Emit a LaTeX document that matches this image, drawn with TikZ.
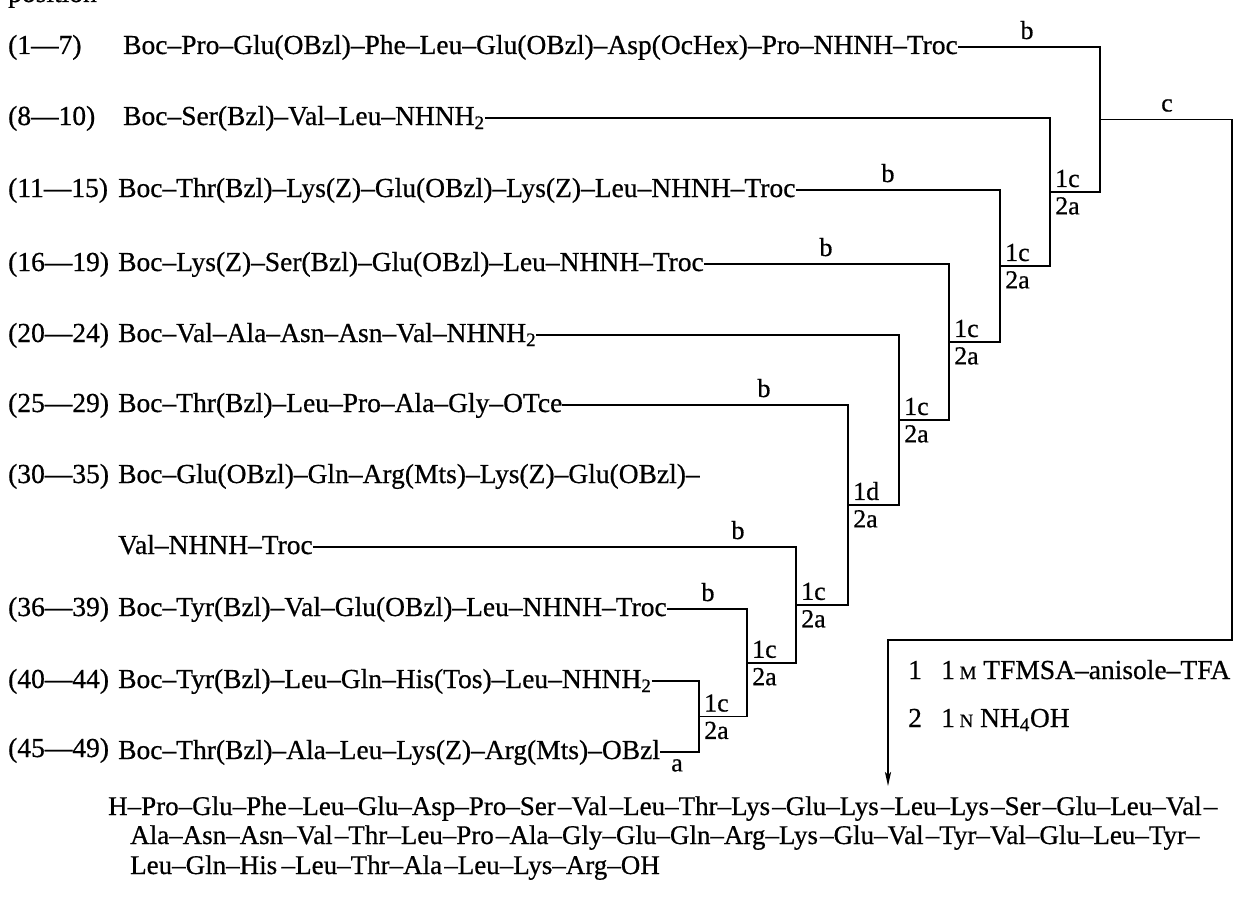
\documentclass[tikz,border=0pt]{standalone}
\usepackage{fontspec}
\setmainfont{Liberation Serif}[FakeBold=0.6]
\usetikzlibrary{calc,arrows.meta}
\begin{document}
\begin{tikzpicture}[x=1pt,y=-1pt,
  pep/.style={anchor=base west, inner sep=0pt, font=\fontsize{27.5}{32}\selectfont, text height=19pt, text depth=5pt},
  rowlab/.style={anchor=base west, inner sep=0pt, font=\fontsize{27.5}{32}\selectfont},
  prod/.style={anchor=base west, inner sep=0pt, font=\fontsize{27}{31}\selectfont},
  lab/.style={inner sep=0pt, font=\fontsize{26}{30}\selectfont},
  conn/.style={line width=1.8pt},
]
\useasboundingbox (0,0) rectangle (1246,907);
\newcommand{\sm}[1]{{\fontsize{19}{19}\selectfont #1}}
\newcommand{\hs}{\hspace{0.08em}}
% header (cut off)
\node[rowlab] (hdr) at (8,2) {position};
% row labels
\node[rowlab] (l1) at (8,54) {(1---7)};
\node[rowlab] (l2) at (8,125) {(8---10)};
\node[rowlab] (l3) at (8,197) {(11---15)};
\node[rowlab] (l4) at (8,271) {(16---19)};
\node[rowlab] (l5) at (8,342) {(20---24)};
\node[rowlab] (l6) at (8,412) {(25---29)};
\node[rowlab] (l7) at (8,483) {(30---35)};
\node[rowlab] (l8) at (8,616) {(36---39)};
\node[rowlab] (l9) at (8,688) {(40---44)};
\node[rowlab] (l10) at (8,757) {(45---49)};
% peptide fragments
\node[pep] (r1) at (123,54) {Boc--Pro--Glu(OBzl)--Phe--Leu--Glu(OBzl)--Asp(OcHex)--Pro--NHNH--Troc};
\node[pep] (r2) at (123,125) {Boc--Ser(Bzl)--Val--Leu--NHNH\textsubscript{2}};
\node[pep] (r3) at (118,197) {Boc--Thr(Bzl)--Lys(Z)--Glu(OBzl)--Lys(Z)--Leu--NHNH--Troc};
\node[pep] (r4) at (118,271) {Boc--Lys(Z)--Ser(Bzl)--Glu(OBzl)--Leu--NHNH--Troc};
\node[pep] (r5) at (118,342) {Boc--Val--Ala--Asn--Asn--Val--NHNH\textsubscript{2}};
\node[pep] (r6) at (118,412) {Boc--Thr(Bzl)--Leu--Pro--Ala--Gly--OTce};
\node[pep] (r7a) at (118,483) {Boc--Glu(OBzl)--Gln--Arg(Mts)--Lys(Z)--Glu(OBzl)--};
\node[pep] (r7) at (118,554) {Val--NHNH--Troc};
\node[pep] (r8) at (118,616) {Boc--Tyr(Bzl)--Val--Glu(OBzl)--Leu--NHNH--Troc};
\node[pep] (r9) at (118,688) {Boc--Tyr(Bzl)--Leu--Gln--His(Tos)--Leu--NHNH\textsubscript{2}};
\node[pep] (r10) at (118,759) {Boc--Thr(Bzl)--Ala--Leu--Lys(Z)--Arg(Mts)--OBzl};
% vertical positions
\coordinate (v0) at (699,0);
\coordinate (v1) at (747,0);
\coordinate (v2) at (796,0);
\coordinate (v3) at (848,0);
\coordinate (v4) at (899,0);
\coordinate (v5) at (949,0);
\coordinate (v6) at (1000,0);
\coordinate (v7) at (1050,0);
\coordinate (v8) at (1100,0);
\coordinate (v9) at (1232,640);
\coordinate (ax) at (888,0);
% tree
\draw[conn] (r9.east) -- (r9.east -| v0) -- (r10.east -| v0) -- (r10.east);
\coordinate (j0) at ($(r9.east -| v0)!0.5!(r10.east -| v0)$);
\draw[conn] (r8.east) -- (r8.east -| v1) -- (j0 -| v1) -- (j0);
\coordinate (j1) at ($(r8.east -| v1)!0.5!(j0 -| v1)$);
\draw[conn] (r7.east) -- (r7.east -| v2) -- (j1 -| v2) -- (j1);
\coordinate (j2) at ($(r7.east -| v2)!0.5!(j1 -| v2)$);
\draw[conn] (r6.east) -- (r6.east -| v3) -- (j2 -| v3) -- (j2);
\coordinate (j3) at ($(r6.east -| v3)!0.5!(j2 -| v3)$);
\draw[conn] (r5.east) -- (r5.east -| v4) -- (j3 -| v4) -- (j3);
\coordinate (j4) at ($(r5.east -| v4)!0.5!(j3 -| v4)$);
\draw[conn] (r4.east) -- (r4.east -| v5) -- (j4 -| v5) -- (j4);
\coordinate (j5) at ($(r4.east -| v5)!0.5!(j4 -| v5)$);
\draw[conn] (r3.east) -- (r3.east -| v6) -- (j5 -| v6) -- (j5);
\coordinate (j6) at ($(r3.east -| v6)!0.5!(j5 -| v6)$);
\draw[conn] (r2.east) -- (r2.east -| v7) -- (j6 -| v7) -- (j6);
\coordinate (j7) at ($(r2.east -| v7)!0.5!(j6 -| v7)$);
\draw[conn] (r1.east) -- (r1.east -| v8) -- (j7 -| v8) -- (j7);
\coordinate (j8) at ($(r1.east -| v8)!0.5!(j7 -| v8)$);
% junction labels
\foreach \j/\t in {j0/1c,j1/1c,j2/1c,j3/1d,j4/1c,j5/1c,j6/1c,j7/1c}{
  \node[lab,anchor=base west] at ([xshift=5pt,yshift=5pt]\j) {\t};
  \node[lab,anchor=north west] at ([xshift=5pt,yshift=-5pt]\j) {2a};
}
% reagent labels on branches
\coordinate (bx1) at (1027,0);
\coordinate (bx3) at (888,0);
\coordinate (bx4) at (826,0);
\coordinate (bx6) at (764,0);
\coordinate (bx7) at (738,0);
\coordinate (bx8) at (708,0);
\coordinate (cx) at (1167,0);
\coordinate (axl) at (677,0);
\node[lab,anchor=base] (b1) at ([yshift=8pt]r1.east -| bx1) {b};
\node[lab,anchor=base] (b3) at ([yshift=8pt]r3.east -| bx3) {b};
\node[lab,anchor=base] (b4) at ([yshift=8pt]r4.east -| bx4) {b};
\node[lab,anchor=base] (b6) at ([yshift=8pt]r6.east -| bx6) {b};
\node[lab,anchor=base] (b7) at ([yshift=8pt]r7.east -| bx7) {b};
\node[lab,anchor=base] (b8) at ([yshift=8pt]r8.east -| bx8) {b};
\node[lab,anchor=base] (c1) at ([yshift=8pt]j8 -| cx) {c};
\node[lab,anchor=north] (a1) at ([yshift=-7pt]r10.east -| axl) {a};
% reagents for deprotection
\node[rowlab] (g1) at (908,679) {1\hspace{0.7em}1\,\sm{M} TFMSA--anisole--TFA};
\node[rowlab] (g2) at (908,727) {2\hspace{0.7em}1\,\sm{N} NH\textsubscript{4}OH};
% final product
\node[prod] (f1) at (108,815) {H--Pro--Glu--Phe\hs--Leu--Glu--Asp--Pro--Ser\hs--Val\hs--Leu--Thr--Lys\hs--Glu--Lys\hs--Leu--Lys\hs--Ser\hs--Glu--Leu--Val\hs--};
\node[prod] (f2) at (130,844) {Ala--Asn--Asn--Val\hs--Thr--Leu--Pro\hs--Ala--Gly--Glu--Gln--Arg--Lys\hs--Glu--Val\hs--Tyr--Val--Glu--Leu--Tyr--};
\node[prod] (f3) at (130,874) {Leu--Gln--His\,--Leu--Thr--Ala\hs--Leu--Lys--Arg--OH};
% final connector
\draw[conn,-{Stealth[length=14pt,width=6pt,inset=3pt]}] (j8) -- (j8 -| v9) -- (v9) -- (v9 -| ax) -- ([yshift=10pt]ax |- f1.north);
\end{tikzpicture}
\end{document}
